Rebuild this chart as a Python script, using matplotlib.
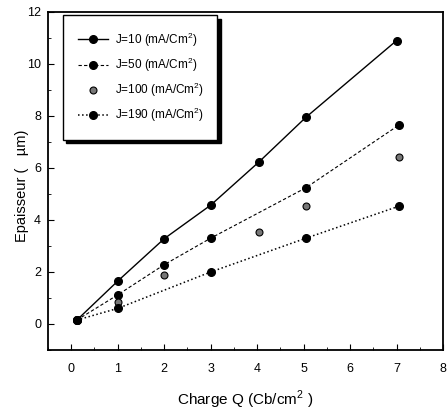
import matplotlib
matplotlib.use("Agg")
import matplotlib.pyplot as plt
from matplotlib.ticker import MultipleLocator

plt.rcParams['font.family'] = ['Liberation Sans', 'DejaVu Sans']
plt.rcParams['mathtext.fontset'] = 'custom'
plt.rcParams['mathtext.rm'] = 'Liberation Sans'

# Data
x_j10 = [0.12, 1.0, 2.0, 3.0, 4.05, 5.05, 7.0]
y_j10 = [0.15, 1.65, 3.28, 4.57, 6.25, 7.95, 10.9]

x_j50 = [0.12, 1.0, 2.0, 3.0, 5.05, 7.05]
y_j50 = [0.15, 1.12, 2.28, 3.3, 5.24, 7.65]

x_j100 = [0.12, 1.0, 2.0, 4.05, 5.05, 7.05]
y_j100 = [0.15, 0.85, 1.9, 3.54, 4.53, 6.43]

x_j190 = [0.12, 1.0, 3.0, 5.05, 7.05]
y_j190 = [0.15, 0.6, 2.0, 3.3, 4.53]

labels = ["J=10 (mA/Cm$^2$)", "J=50 (mA/Cm$^2$)", "J=100 (mA/Cm$^2$)", "J=190 (mA/Cm$^2$)"]

fig = plt.figure(figsize=(4.48, 4.13), dpi=100)
ax = fig.add_axes([48 / 448, 63 / 413, 395 / 448, 338 / 413])

ax.plot(x_j10, y_j10, '-', color='black', lw=1.0, marker='o', ms=5.5, label=labels[0])
ax.plot(x_j50, y_j50, '--', color='black', lw=0.8, dashes=(3, 2), marker='o', ms=5.5, label=labels[1])
ax.plot(x_j100, y_j100, linestyle='none', marker='o', ms=5,
        markerfacecolor='#777777', markeredgecolor='black', markeredgewidth=0.8, label=labels[2])
ax.plot(x_j190, y_j190, ':', color='black', lw=1.1, marker='o', ms=5.5, label=labels[3])

ax.set_xlim(-0.5, 8)
ax.set_ylim(-1, 12)
ax.xaxis.set_major_locator(MultipleLocator(1))
ax.xaxis.set_minor_locator(MultipleLocator(0.5))
ax.yaxis.set_major_locator(MultipleLocator(2))
ax.yaxis.set_minor_locator(MultipleLocator(1))
ax.tick_params(which='both', direction='in', top=False, right=False, labelsize=9)
ax.tick_params(axis='x', which='major', length=4, pad=9)
ax.tick_params(axis='y', which='major', length=4, pad=5)
ax.tick_params(which='minor', length=2)
for s in ax.spines.values():
    s.set_linewidth(1.3)

ax.set_xlabel("Charge Q (Cb/cm$^2$ )", fontsize=11, labelpad=10)
ax.set_ylabel("Epaisseur (   \u00b5m)", fontsize=10.5)
ax.yaxis.set_label_coords(-0.047, 0.485)

leg = ax.legend(loc='upper left', fontsize=8.5, frameon=True, fancybox=False,
                edgecolor='black', handlelength=2.5, handletextpad=0.6,
                borderpad=1.3, labelspacing=0.6, mode='expand', borderaxespad=0,
                bbox_to_anchor=(0.038, 0.0, 0.39, 0.991),
                shadow={'ox': 2.5, 'oy': -2.5, 'color': 'black', 'alpha': 1.0})
leg.get_frame().set_linewidth(1.0)

fig.savefig("out.png", dpi=100)
